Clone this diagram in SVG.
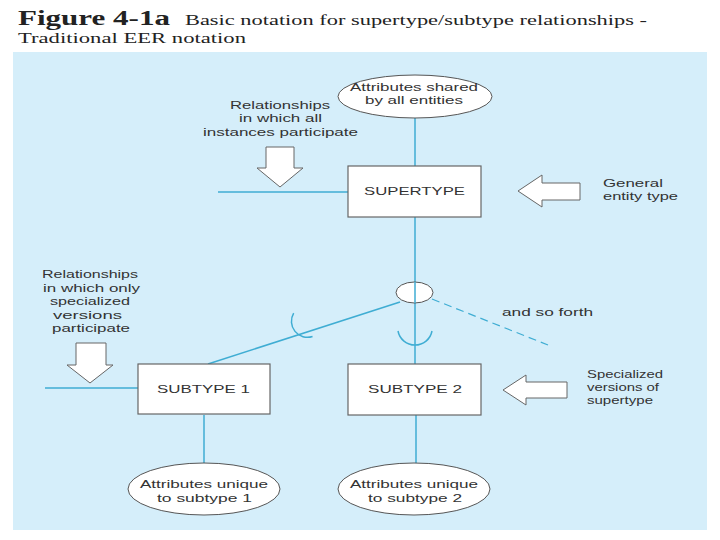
<svg xmlns="http://www.w3.org/2000/svg" width="720" height="540" viewBox="0 0 720 540">
<style>
.t{font-family:"Liberation Sans",Arial,sans-serif;font-size:11px;fill:#333;text-anchor:middle}
.tl{font-family:"Liberation Sans",Arial,sans-serif;font-size:11px;fill:#333}
.box{fill:#fff;stroke:#666;stroke-width:1.2}
.ell{fill:#fff;stroke:#555;stroke-width:1}
.arr{fill:#fff;stroke:#666;stroke-width:1}
.ln{stroke:#3fadd3;stroke-width:1.5;fill:none}
.dash{stroke:#3fadd3;stroke-width:1.2;fill:none;stroke-dasharray:8 5}
.ttl{font-family:"Liberation Serif","Times New Roman",serif;fill:#222}
</style>
<rect width="720" height="540" fill="#fff"/>
<g id="title">
<text class="ttl" x="18" y="25" font-size="20" font-weight="bold" textLength="152" lengthAdjust="spacingAndGlyphs">Figure 4-1a</text>
<text class="ttl" x="185" y="25" font-size="15" textLength="462" lengthAdjust="spacingAndGlyphs">Basic notation for supertype/subtype relationships -</text>
<text class="ttl" x="18" y="43" font-size="15" textLength="228" lengthAdjust="spacingAndGlyphs">Traditional EER notation</text>
</g>
<rect id="panel" x="13" y="52" width="694" height="478" fill="#d5eefa"/>

<g id="connectors">
<line class="ln" x1="415" y1="118" x2="415" y2="166"/>
<line class="ln" x1="415" y1="217" x2="415" y2="282"/>
<line class="ln" x1="218" y1="192" x2="348" y2="192"/>
<line class="ln" x1="415" y1="282" x2="415" y2="364"/>
<line class="ln" x1="400" y1="302" x2="208" y2="364"/>
<line class="ln" x1="45" y1="388" x2="138" y2="388"/>
<line class="ln" x1="204" y1="415" x2="204" y2="463"/>
<line class="ln" x1="416" y1="415" x2="416" y2="463"/>
<line class="dash" x1="432" y1="299" x2="548" y2="345"/>
<path class="ln" d="M-17,-14 A17.3,17.3 0 0,0 17,-14" transform="translate(415,345)"/>
<path class="ln" d="M-15,-13 A16,16 0 0,0 15,-13" transform="translate(293,333) rotate(51)"/>
</g>

<g id="circle">
<ellipse class="ell" cx="414.5" cy="292.5" rx="18.5" ry="10.5"/>
<line class="ln" x1="415" y1="282" x2="415" y2="303"/>
</g>

<g id="attr-shared">
<ellipse class="ell" cx="415" cy="96.5" rx="77" ry="21.5"/>
<text class="t" x="414" y="91" textLength="128" lengthAdjust="spacingAndGlyphs">Attributes shared</text>
<text class="t" x="414" y="104" textLength="98" lengthAdjust="spacingAndGlyphs">by all entities</text>
</g>

<g id="supertype">
<rect class="box" x="348" y="166" width="133" height="51"/>
<text class="t" x="414.5" y="195" textLength="101" lengthAdjust="spacingAndGlyphs">SUPERTYPE</text>
</g>

<g id="subtype1">
<rect class="box" x="138" y="364" width="132" height="50"/>
<text class="t" x="203.5" y="393" textLength="93" lengthAdjust="spacingAndGlyphs">SUBTYPE 1</text>
</g>

<g id="subtype2">
<rect class="box" x="348" y="364" width="133" height="51"/>
<text class="t" x="415" y="393" textLength="94" lengthAdjust="spacingAndGlyphs">SUBTYPE 2</text>
</g>

<g id="attr-unique1">
<ellipse class="ell" cx="204" cy="489" rx="76" ry="26"/>
<text class="t" x="204" y="488" textLength="128" lengthAdjust="spacingAndGlyphs">Attributes unique</text>
<text class="t" x="204.5" y="502" textLength="95" lengthAdjust="spacingAndGlyphs">to subtype 1</text>
</g>

<g id="attr-unique2">
<ellipse class="ell" cx="414" cy="489" rx="76" ry="26"/>
<text class="t" x="414" y="488" textLength="128" lengthAdjust="spacingAndGlyphs">Attributes unique</text>
<text class="t" x="415" y="502" textLength="94" lengthAdjust="spacingAndGlyphs">to subtype 2</text>
</g>

<g id="note-all">
<text class="t" x="280" y="108.5" textLength="100" lengthAdjust="spacingAndGlyphs">Relationships</text>
<text class="t" x="280.5" y="122" textLength="83" lengthAdjust="spacingAndGlyphs">in which all</text>
<text class="t" x="280.5" y="136" textLength="155" lengthAdjust="spacingAndGlyphs">instances participate</text>
<polygon class="arr" points="266,147 294,147 294,168 303,168 280,187 257,168 266,168"/>
</g>

<g id="note-general">
<polygon class="arr" points="518,191 542,175 542,183 580,183 580,200 542,200 542,207"/>
<text class="tl" x="603" y="187" textLength="60" lengthAdjust="spacingAndGlyphs">General</text>
<text class="tl" x="603" y="200" textLength="75" lengthAdjust="spacingAndGlyphs">entity type</text>
</g>

<g id="note-specialized-rel">
<text class="t" x="90" y="278" textLength="96" lengthAdjust="spacingAndGlyphs">Relationships</text>
<text class="t" x="91.5" y="291.5" textLength="97" lengthAdjust="spacingAndGlyphs">in which only</text>
<text class="t" x="90" y="305" textLength="80" lengthAdjust="spacingAndGlyphs">specialized</text>
<text class="t" x="87.5" y="318.5" textLength="69" lengthAdjust="spacingAndGlyphs">versions</text>
<text class="t" x="91" y="332" textLength="78" lengthAdjust="spacingAndGlyphs">participate</text>
<polygon class="arr" points="76,343 106,343 106,365 113,365 90,383 67,365 76,365"/>
</g>

<g id="note-forth">
<text class="tl" x="502" y="316" textLength="91" lengthAdjust="spacingAndGlyphs">and so forth</text>
</g>

<g id="note-specialized">
<polygon class="arr" points="503,390 526,375 526,382 567,382 567,398 526,398 526,405"/>
<text class="tl" x="587" y="378" textLength="76" lengthAdjust="spacingAndGlyphs">Specialized</text>
<text class="tl" x="587" y="391" textLength="72" lengthAdjust="spacingAndGlyphs">versions of</text>
<text class="tl" x="587" y="404" textLength="66" lengthAdjust="spacingAndGlyphs">supertype</text>
</g>
</svg>
